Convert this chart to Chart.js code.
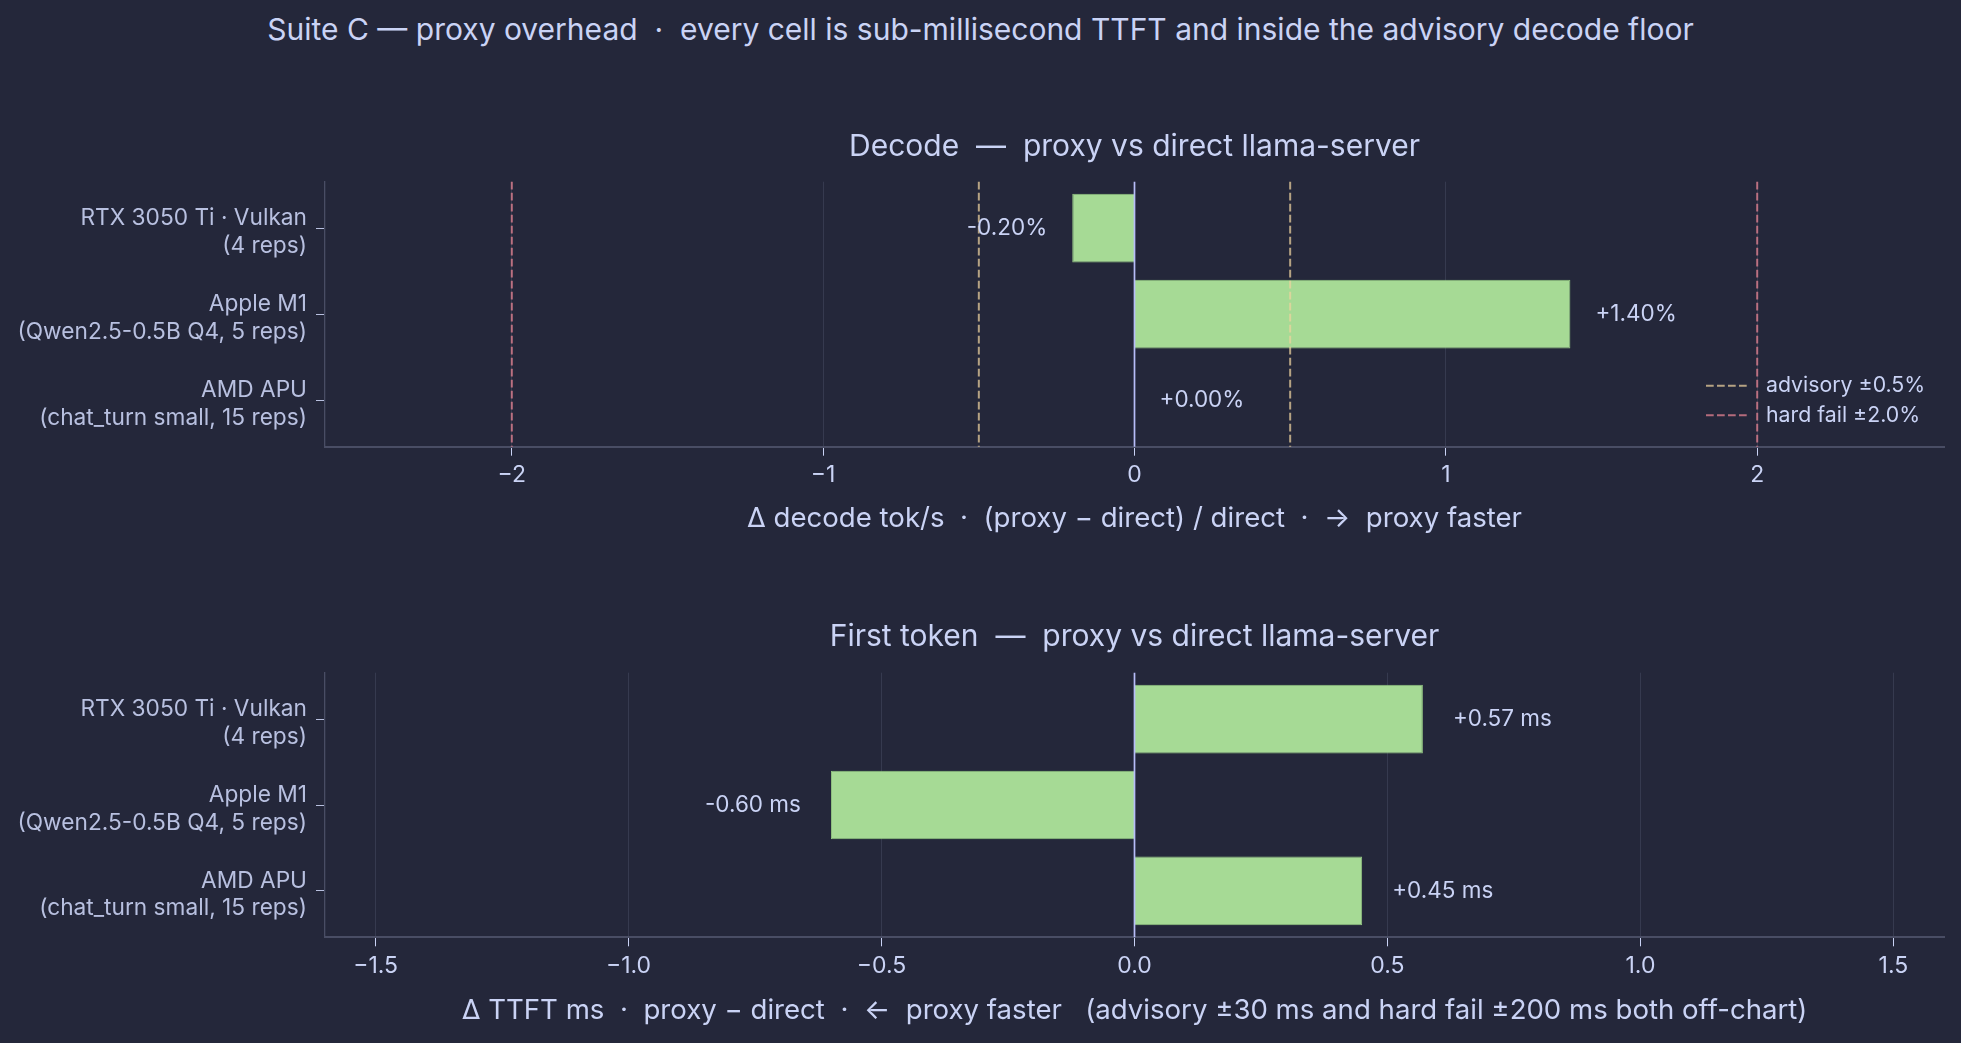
<!DOCTYPE html>
<html><head><meta charset="utf-8">
<script src="https://cdn.jsdelivr.net/npm/chart.js@4.4.1/dist/chart.umd.min.js"></script>
<style>
html,body{margin:0;padding:0;background:#24273a;width:1961px;height:1043px;overflow:hidden;}
#title{position:absolute;left:0;top:11px;width:1961px;text-align:center;font-family:Inter;font-size:30px;line-height:36px;color:#cad3f5;white-space:pre;}
#c1{position:absolute;left:0;top:0;}
#c2{position:absolute;left:0;top:560px;}
</style></head><body>
<div id="title">Suite C — proxy overhead  ·  every cell is sub-millisecond TTFT and inside the advisory decode floor</div>
<canvas id="c1" width="1961" height="560"></canvas>
<canvas id="c2" width="1961" height="483"></canvas>
<script>
// ---- data ----
const categories = [
  ['RTX 3050 Ti · Vulkan', '(4 reps)'],
  ['Apple M1', '(Qwen2.5-0.5B Q4, 5 reps)'],
  ['AMD APU', '(chat_turn small, 15 reps)']
];
const decodeDeltaPct = [-0.20, 1.40, 0.00];
const ttftDeltaMs = [0.57, -0.60, 0.45];
const decodeTicks = [-2, -1, 0, 1, 2];
const decodeTickLabels = ['−2', '−1', '0', '1', '2'];
const ttftTicks = [-1.5, -1.0, -0.5, 0, 0.5, 1.0, 1.5];
const ttftTickLabels = ['−1.5', '−1.0', '−0.5', '0.0', '0.5', '1.0', '1.5'];
const decodeRange = [-2.6, 2.6];
const ttftRange = [-1.6, 1.6];
const advisoryPct = 0.5;
const hardFailPct = 2.0;

// ---- styles ----
const TXT = '#cad3f5', SUB = '#b8c0e0', GRID = '#363a4f', SPINE = '#494d64';
const GREEN = '#a6da95', GREEN_EDGE = '#93c683', ZERO = '#b7bdf8';
const ADV = 'rgba(238,212,159,0.72)', HARD = 'rgba(237,135,150,0.72)';
Chart.defaults.font.family = 'Inter';
Chart.defaults.color = TXT;

const refLines = {
  id: 'refLines',
  afterDatasetsDraw(chart, args, opts) {
    const ctx = chart.ctx, a = chart.chartArea, xs = chart.scales.x;
    ctx.save();
    (opts.lines || []).forEach(l => {
      ctx.strokeStyle = l.color; ctx.lineWidth = 2; ctx.setLineDash([7.7, 3.3]);
      l.values.forEach(v => {
        const px = xs.getPixelForValue(v);
        ctx.beginPath(); ctx.moveTo(px, a.top); ctx.lineTo(px, a.bottom); ctx.stroke();
      });
    });
    ctx.setLineDash([]);
    ctx.strokeStyle = ZERO; ctx.lineWidth = 1.7;
    const z = xs.getPixelForValue(0);
    ctx.beginPath(); ctx.moveTo(z, a.top); ctx.lineTo(z, a.bottom); ctx.stroke();
    if (opts.legend) {
      ctx.font = '21.3px Inter'; ctx.textBaseline = 'middle'; ctx.textAlign = 'left';
      opts.legend.forEach((e, i) => {
        const y = a.bottom - 61 + i * 29.5;
        ctx.strokeStyle = e.color; ctx.lineWidth = 2; ctx.setLineDash([7.7, 3.3]);
        ctx.beginPath(); ctx.moveTo(a.right - 238, y); ctx.lineTo(a.right - 194, y); ctx.stroke();
        ctx.setLineDash([]);
        ctx.fillStyle = TXT; ctx.fillText(e.label, a.right - 178, y);
      });
    }
    ctx.restore();
  }
};

const barLabels = {
  id: 'barLabels',
  afterDatasetsDraw(chart, args, opts) {
    const ctx = chart.ctx, meta = chart.getDatasetMeta(0), vals = chart.data.datasets[0].data;
    ctx.save();
    ctx.font = '22.5px Inter'; ctx.fillStyle = TXT; ctx.textBaseline = 'middle';
    meta.data.forEach((el, i) => {
      const v = vals[i].x;
      const txt = (v < 0 ? '-' : '+') + Math.abs(v).toFixed(2) + opts.unit;
      if (v < 0) { ctx.textAlign = 'right'; ctx.fillText(txt, el.x - opts.gap, el.y); }
      else { ctx.textAlign = 'left'; ctx.fillText(txt, el.x + opts.gap, el.y); }
    });
    ctx.restore();
  }
};

function yScale() {
  return {
    type: 'linear', reverse: true, min: -0.54, max: 2.54, offset: false,
    afterBuildTicks: s => { s.ticks = categories.map((_, i) => ({ value: i })); },
    afterFit: s => { s.width = 325; },
    ticks: { callback: v => categories[v], color: SUB, font: { size: 22.7, lineHeight: 1.21 }, padding: 9, labelOffset: 4, autoSkip: false },
    grid: { offset: false, drawOnChartArea: false, drawTicks: true, tickLength: 9, tickColor: SUB, tickWidth: 1 },
    border: { display: true, color: SPINE, width: 1.3 }
  };
}
function xScale(range, ticks, labels, titleText, height, padBottom) {
  return {
    type: 'linear', position: 'bottom', min: range[0], max: range[1],
    afterBuildTicks: s => { s.ticks = ticks.map(v => ({ value: v })); },
    afterFit: s => { s.height = height; },
    ticks: { callback: v => labels[ticks.indexOf(v)], color: TXT, font: { size: 23 }, padding: 6, autoSkip: false, maxRotation: 0 },
    grid: { color: GRID, lineWidth: 1, drawTicks: true, tickLength: 9, tickColor: TXT, tickWidth: 1 },
    border: { display: true, color: SPINE, width: 2 },
    title: { display: true, text: titleText, color: TXT, font: { size: 27.6 }, padding: { top: 0, bottom: padBottom } }
  };
}
function makeChart(id, values, cfg) {
  return new Chart(document.getElementById(id), {
    type: 'bar',
    data: {
      datasets: [{
        data: values.map((v, i) => ({ x: v, y: i })),
        backgroundColor: GREEN, borderColor: GREEN_EDGE, borderWidth: 1, borderSkipped: 'start',
        barPercentage: 0.8, categoryPercentage: 1.0
      }]
    },
    options: {
      indexAxis: 'y', responsive: false, animation: false, devicePixelRatio: 1,
      layout: { padding: { left: 0, right: 17, top: 0, bottom: 0 } },
      scales: { x: cfg.x, y: yScale() },
      plugins: {
        legend: { display: false }, tooltip: { enabled: false },
        title: { display: true, fullSize: false, text: cfg.title, color: TXT, font: { size: 30, weight: 'normal', lineHeight: 1.2 }, padding: cfg.titlePad },
        refLines: cfg.refLines, barLabels: cfg.barLabels
      }
    },
    plugins: [refLines, barLabels]
  });
}

makeChart('c1', decodeDeltaPct, {
  title: 'Decode  —  proxy vs direct llama-server',
  titlePad: { top: 129.3, bottom: 16.4 },
  x: xScale(decodeRange, decodeTicks, decodeTickLabels, 'Δ decode tok/s  ·  (proxy − direct) / direct  ·  →  proxy faster', 113.3, 24.4),
  refLines: {
    lines: [{ color: ADV, values: [-advisoryPct, advisoryPct] }, { color: HARD, values: [-hardFailPct, hardFailPct] }],
    legend: [{ label: 'advisory ±' + advisoryPct.toFixed(1) + '%', color: ADV }, { label: 'hard fail ±' + hardFailPct.toFixed(1) + '%', color: HARD }]
  },
  barLabels: { unit: '%', gap: 25 }
});
makeChart('c2', ttftDeltaMs, {
  title: 'First token  —  proxy vs direct llama-server',
  titlePad: { top: 59, bottom: 17.7 },
  x: xScale(ttftRange, ttftTicks, ttftTickLabels, 'Δ TTFT ms  ·  proxy − direct  ·  ←  proxy faster   (advisory ±30 ms and hard fail ±200 ms both off-chart)', 105.7, 16),
  refLines: { lines: [] },
  barLabels: { unit: ' ms', gap: 30 }
});
</script>
</body></html>
